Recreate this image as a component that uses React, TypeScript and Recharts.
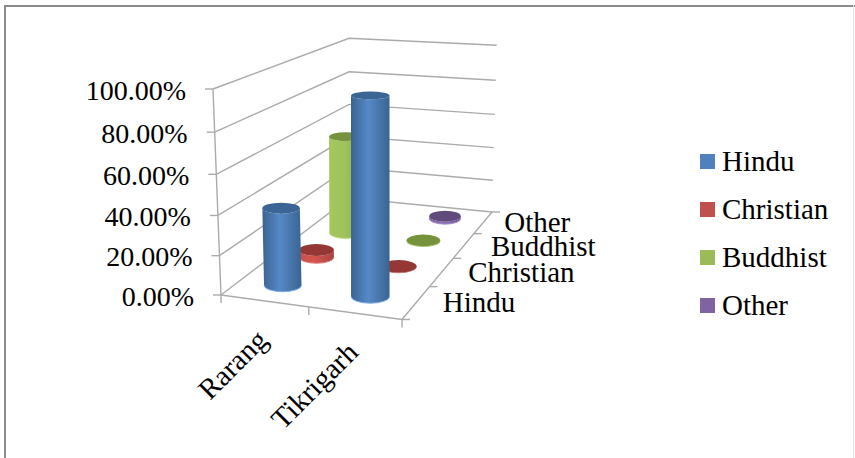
import { BarChart, Bar, XAxis, YAxis, CartesianGrid, Legend } from "recharts"

const categories = ["Rarang", "Tikrigarh"]
const seriesNames = ["Hindu", "Christian", "Buddhist", "Other"]
const hinduValues = [39.6, 97.3]
const christianValues = [4, 0.3]
const buddhistValues = [55.8, 0.5]
const otherValues = [0.5, 1.5]
const valueTicks = [0, 20, 40, 60, 80, 100]

const rows = categories.map((name, i) => ({
  name,
  Hindu: hinduValues[i],
  Christian: christianValues[i],
  Buddhist: buddhistValues[i],
  Other: otherValues[i],
}))

const swatches = ["#4F81BD", "#C0504D", "#9BBB59", "#8064A2"]
const tops = ["#3B6595", "#953735", "#76923C", "#604A7B"]
const sides = [
  ["#3A6391", "#5689C8", "#3A6391"],
  ["#C94F4B", "#D4554F", "#A8423F"],
  ["#A3C75E", "#9FC45B", "#8CAC4D"],
  ["#7A5E9C", "#8C6FB0", "#6E5490"],
]
const rims = ["#7FAEE3", "#E07A75", "#BBDD7C", "#A68FCB"]
const depthLabelGaps = [26.5, 26.5, 27, 21]

const WIDTH = 855
const HEIGHT = 458
const PLOT = { left: 221, top: 89, width: 181, height: 206 }
const FONT = "'Liberation Serif', 'Times New Roman', serif"
const LINE = "#ababab"

type Pt = [number, number]

// unit square -> quad, corners ordered front-left, front-right, back-right, back-left
function homography([p0, p1, p2, p3]: Pt[]) {
  const dx1 = p1[0] - p2[0]
  const dx2 = p3[0] - p2[0]
  const sx = p0[0] - p1[0] + p2[0] - p3[0]
  const dy1 = p1[1] - p2[1]
  const dy2 = p3[1] - p2[1]
  const sy = p0[1] - p1[1] + p2[1] - p3[1]
  const den = dx1 * dy2 - dx2 * dy1
  const g = (sx * dy2 - dx2 * sy) / den
  const h = (dx1 * sy - sx * dy1) / den
  const a = p1[0] - p0[0] + g * p1[0]
  const b = p3[0] - p0[0] + h * p3[0]
  const d = p1[1] - p0[1] + g * p1[1]
  const e = p3[1] - p0[1] + h * p3[1]
  return (s: number, t: number): Pt => {
    const w = g * s + h * t + 1
    return [(a * s + b * t + p0[0]) / w, (d * s + e * t + p0[1]) / w]
  }
}

const floor = homography([[221, 295], [402, 319.5], [492, 212], [349, 198]])
const ceiling = homography([[213, 89], [403.5, 101.7], [496.7, 45.3], [349, 38.3]])

// height fraction to screen fraction, the upper part of the box looks a little stretched
const lift = (h: number) => h / (1 + 0.06 * (1 - h))

function project(s: number, t: number, h: number): Pt {
  const a = floor(s, t)
  const b = ceiling(s, t)
  const f = lift(h)
  return [a[0] + (b[0] - a[0]) * f, a[1] + (b[1] - a[1]) * f]
}

const pts = (list: Pt[]) => list.map((p) => p.join(",")).join(" ")

function Cylinder(props: any) {
  const { x, width, height, depth } = props
  const s = (x + width / 2 - PLOT.left) / PLOT.width
  const t = (depth + 0.5) / seriesNames.length
  const h = (height || 0) / PLOT.height
  const base = project(s, t, 0)
  const top = project(s, t, h)
  const full = project(s, t, 1)
  const rx = (base[1] - full[1]) * 0.093
  const ryBase = rx * 0.35
  const ryTop = rx * (0.35 - 0.15 * lift(h))
  const rim = `M${base[0] - rx},${base[1]} A${rx},${ryBase} 0 0 0 ${base[0] + rx},${base[1]}`
  const body = `${rim} L${top[0] + rx},${top[1]} A${rx},${ryTop} 0 0 1 ${top[0] - rx},${top[1]} Z`
  return (
    <g>
      <path d={body} fill={`url(#side${depth})`} />
      {height > 3 && <path d={rim} fill="none" stroke={rims[depth]} strokeWidth={1} />}
      <ellipse cx={top[0]} cy={top[1]} rx={rx} ry={ryTop} fill={tops[depth]} />
    </g>
  )
}

// walls, one polyline per value tick
function WallLine(props: any) {
  const h = (PLOT.top + PLOT.height - props.y1) / PLOT.height
  return (
    <polyline
      points={pts([project(0, 0, h), project(0, 1, h), project(1, 1, h)])}
      fill="none"
      stroke={LINE}
      strokeWidth={1.4}
    />
  )
}

function FloorFrame() {
  const corners = [project(0, 0, 0), project(1, 0, 0), project(1, 1, 0)]
  const catTicks = [0, 0.5, 1].map((s) => project(s, 0, 0))
  const depthTicks = [0, 0.25, 0.5, 0.75, 1].map((t) => project(1, t, 0))
  return (
    <g>
      <defs>
        {sides.map((stops, i) => (
          <linearGradient key={i} id={`side${i}`} x1="0" y1="0" x2="1" y2="0">
            <stop offset="0" stopColor={stops[0]} />
            <stop offset="0.45" stopColor={stops[1]} />
            <stop offset="1" stopColor={stops[2]} />
          </linearGradient>
        ))}
      </defs>
      <polyline points={pts(corners)} fill="none" stroke={LINE} strokeWidth={1.4} />
      <polyline points={pts([project(0, 0, 0), project(0, 0, 1)])} fill="none" stroke={LINE} strokeWidth={1.4} />
      {catTicks.map((p, i) => (
        <line key={i} x1={p[0]} y1={p[1]} x2={p[0]} y2={p[1] + 8} stroke={LINE} strokeWidth={1.4} />
      ))}
      {depthTicks.map((p, i) => (
        <line key={i} x1={p[0]} y1={p[1]} x2={p[0] + 8} y2={p[1]} stroke={LINE} strokeWidth={1.4} />
      ))}
      {seriesNames.map((name, i) => {
        const p = project(1, (i + 0.5) / seriesNames.length, 0)
        return (
          <text key={name} x={p[0] + depthLabelGaps[i]} y={p[1] + 10} fontFamily={FONT} fontSize={29} fill="#000">
            {name}
          </text>
        )
      })}
    </g>
  )
}

function ValueTick(props: any) {
  const p = project(0, 0, props.payload.value / 100)
  return (
    <g>
      <line x1={p[0] - 8} y1={p[1]} x2={p[0]} y2={p[1]} stroke={LINE} strokeWidth={1.4} />
      <text x={p[0] - 27} y={p[1] + 10.6} textAnchor="end" fontFamily={FONT} fontSize={28} fill="#000">
        {`${props.payload.value.toFixed(2)}%`}
      </text>
    </g>
  )
}

function CategoryTick(props: any) {
  const p = project((props.x - PLOT.left) / PLOT.width, 0, 0)
  const x = p[0] + 5
  const y = p[1] + 41
  return (
    <text
      x={x}
      y={y}
      textAnchor="end"
      transform={`rotate(-45 ${x} ${y})`}
      fontFamily={FONT}
      fontSize={29}
      fill="#000"
    >
      {props.payload.value}
    </text>
  )
}

function LegendBox() {
  return (
    <div style={{ fontFamily: FONT, fontSize: 29, color: "#000" }}>
      {seriesNames.map((name, i) => (
        <div key={name} style={{ display: "flex", alignItems: "center", height: 48 }}>
          <span style={{ width: 15, height: 15, background: swatches[i], marginRight: 7 }} />
          <span>{name}</span>
        </div>
      ))}
    </div>
  )
}

export default function App() {
  return (
    <div style={{ position: "absolute", left: 0, top: 0, width: WIDTH, height: HEIGHT, background: "#fff", overflow: "hidden" }}>
      <div style={{ position: "absolute", left: 4, top: 5, width: 2, height: HEIGHT, background: "#8c8c8c" }} />
      <div style={{ position: "absolute", left: 4, top: 5, width: WIDTH, height: 2, background: "#8c8c8c" }} />
      <div style={{ position: "absolute", left: 853, top: 5, width: 1, height: HEIGHT, background: "#e2e2e2" }} />
      <BarChart
        width={WIDTH}
        height={HEIGHT}
        data={rows}
        margin={{ left: PLOT.left - 100, top: PLOT.top, right: WIDTH - PLOT.left - PLOT.width, bottom: HEIGHT - PLOT.top - PLOT.height - 100 }}
        barSize={40}
        barGap={-40}
        style={{ position: "absolute", left: 0, top: 0 }}
      >
        <FloorFrame />
        <CartesianGrid vertical={false} horizontal={(p: any) => <WallLine key={p.key} {...p} />} />
        <XAxis dataKey="name" height={100} interval={0} axisLine={false} tickLine={false} tick={<CategoryTick />} />
        <YAxis width={100} domain={[0, 100]} ticks={valueTicks} interval={0} axisLine={false} tickLine={false} tick={<ValueTick />} />
        {/* painted back to front so nearer cylinders cover farther ones */}
        {[3, 2, 1, 0].map((i) => (
          <Bar
            key={seriesNames[i]}
            dataKey={seriesNames[i]}
            isAnimationActive={false}
            fill={swatches[i]}
            shape={(p: any) => <Cylinder {...p} depth={i} />}
          />
        ))}
        <Legend
          layout="horizontal"
          verticalAlign="middle"
          align="center"
          wrapperStyle={{ left: 700, top: 137, width: 140 }}
          content={<LegendBox />}
        />
      </BarChart>
    </div>
  )
}
